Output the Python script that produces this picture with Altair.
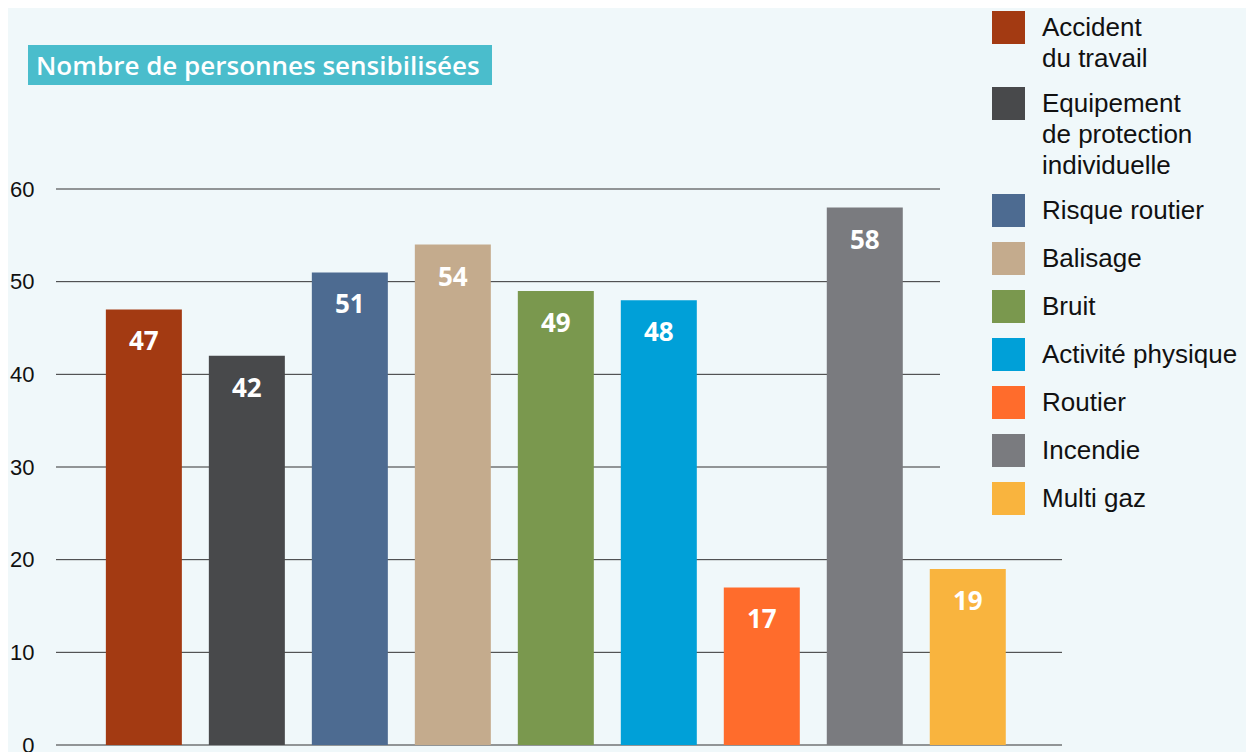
import altair as alt
import pandas as pd

# ---- data ----
categories = [
    "Accident|du travail",
    "Equipement|de protection|individuelle",
    "Risque routier",
    "Balisage",
    "Bruit",
    "Activité physique",
    "Routier",
    "Incendie",
    "Multi gaz",
]
values = [47, 42, 51, 54, 49, 48, 17, 58, 19]
colors = ["#A33A12", "#48494B", "#4D6B91", "#C4AB8D", "#7A984E",
          "#00A0D8", "#FF6C2C", "#7A7B7F", "#F9B43E"]
grid_values = [0, 10, 20, 30, 40, 50, 60]
title_text = ["Nombre de personnes sensibilisées"]

BG = "#F0F8FA"

df = pd.DataFrame({"cat": categories, "v": values})
grid_df = pd.DataFrame({"g": grid_values})
title_df = pd.DataFrame({"t": title_text})

yscale = alt.Scale(domain=[0, 60], nice=False, zero=True)
xscale = alt.Scale(paddingInner=0.262, paddingOuter=0.515, align=0.47)
yaxis = alt.Axis(values=grid_values, grid=False, domain=False, ticks=False,
                 labelFontSize=22, labelColor="#111111", labelPadding=22,
                 labelFont="Liberation Sans", title=None)

# gridlines: those beside the legend stop short of it
grid_long = alt.Chart(grid_df).transform_filter("datum.g < 30").mark_rule(
    color="#333333", strokeWidth=1).encode(
    y=alt.Y("g:Q", scale=yscale, axis=yaxis),
    x=alt.value(0), x2=alt.value(1006),
)
grid_short = alt.Chart(grid_df).transform_filter("datum.g >= 30").mark_rule(
    color="#333333", strokeWidth=1).encode(
    y=alt.Y("g:Q", scale=yscale, axis=yaxis),
    x=alt.value(0), x2=alt.value(884),
)

bars = alt.Chart(df).mark_bar().encode(
    x=alt.X("cat:N", sort=categories, scale=xscale, axis=None),
    y=alt.Y("v:Q", scale=yscale, axis=yaxis),
    color=alt.Color("cat:N", sort=categories,
                    scale=alt.Scale(domain=categories, range=colors),
                    legend=alt.Legend(orient="none", legendX=936, legendY=-178,
                                      title=None, symbolType="square", symbolSize=1089,
                                      symbolStrokeWidth=0, symbolOpacity=1,
                                      labelFont="Liberation Sans", labelFontSize=26,
                                      labelColor="#111111", labelOffset=17,
                                      rowPadding=15, labelLimit=400, padding=0,
                                      labelExpr="split(datum.label, '|')")),
)

labels = alt.Chart(df).mark_text(
    baseline="alphabetic", dy=41, color="white", font="Open Sans",
    fontWeight="bold", fontSize=26,
).encode(
    x=alt.X("cat:N", sort=categories, scale=xscale, axis=None),
    y=alt.Y("v:Q", scale=yscale, axis=yaxis),
    text=alt.Text("v:Q"),
)

title_box = alt.Chart(title_df).mark_rect(color="#4ABDCC").encode(
    x=alt.value(-28), x2=alt.value(436), y=alt.value(-144), y2=alt.value(-104),
)
title_txt = alt.Chart(title_df).mark_text(
    align="left", baseline="alphabetic", color="white", font="Open Sans",
    fontWeight=600, fontSize=26,
).encode(x=alt.value(-20), y=alt.value(-114), text=alt.Text("t:N"))

chart = alt.layer(grid_long, grid_short, bars, labels, title_box, title_txt).properties(
    width=1006, height=556,
    autosize=alt.AutoSizeParams(type="none"),
    padding={"left": 48, "top": 181, "right": 184, "bottom": 8},
    background=BG,
).configure(style={"guide-label": {"lineHeight": 31}}).configure_view(stroke=None)

chart.save("out.html", embed_options={"renderer": "svg", "actions": False})
